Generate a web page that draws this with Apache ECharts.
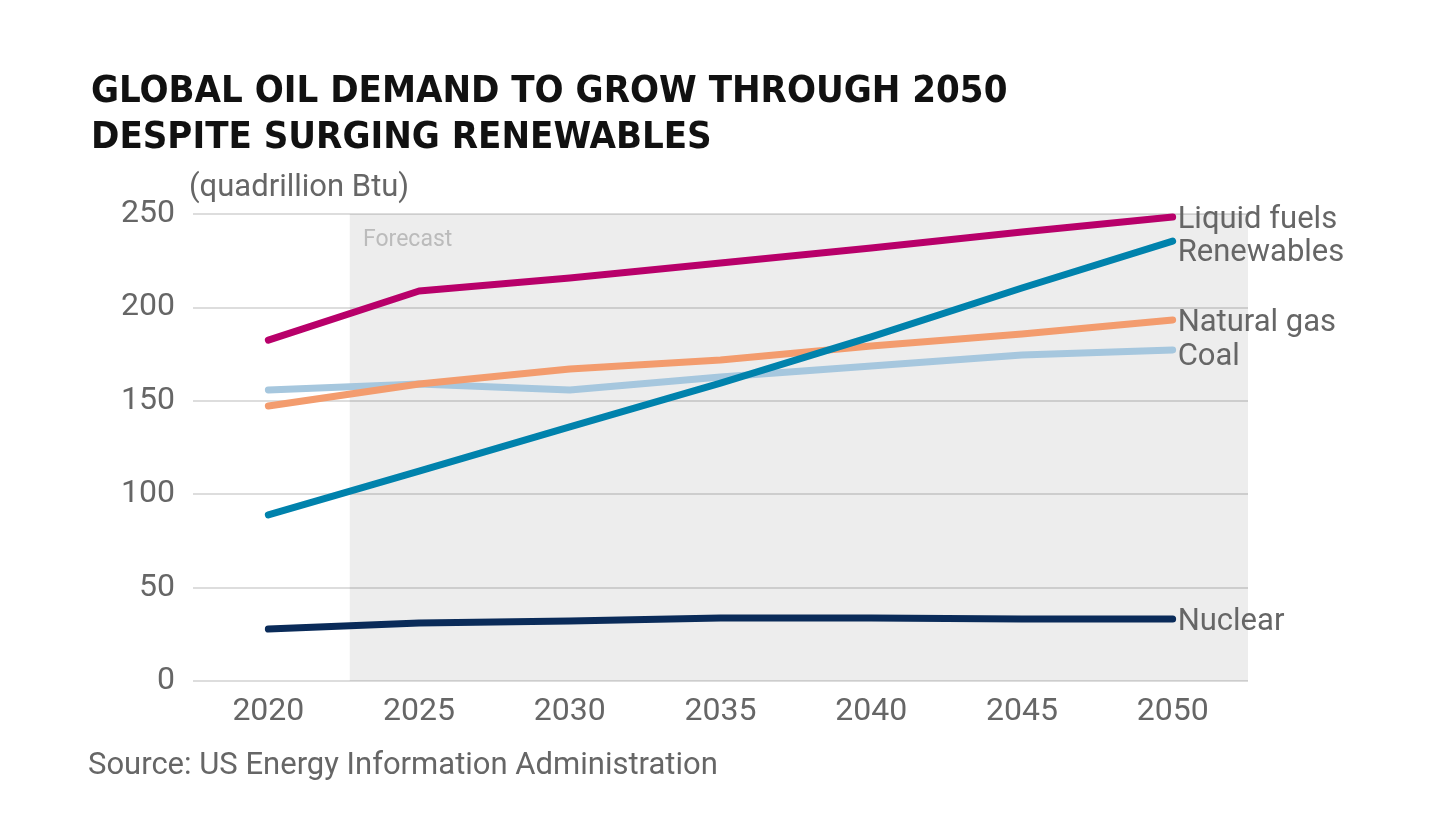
<!DOCTYPE html>
<html>
<head>
<meta charset="utf-8">
<script src="https://cdn.jsdelivr.net/npm/echarts@6/dist/echarts.min.js"></script>
<style>
  html, body { margin: 0; padding: 0; background: #ffffff; }
  #chart { width: 1440px; height: 831px; }
</style>
</head>
<body>
<div id="chart"></div>
<script>
const years = ['2020', '2025', '2030', '2035', '2040', '2045', '2050'];
const liquidFuels = [182.5, 208.8, 215.7, 223.8, 231.8, 240.4, 248.4];
const renewables = [88.9, 112.4, 136.0, 159.5, 184.2, 210.4, 235.5];
const naturalGas = [147.2, 159.0, 167.0, 171.8, 179.3, 185.8, 193.3];
const coal = [155.8, 159.0, 155.8, 162.7, 168.6, 174.5, 177.2];
const nuclear = [27.8, 31.0, 32.1, 33.7, 33.7, 33.2, 33.2];
const forecastStart = 2022.7;
const forecastEnd = 2052.5;

const labelFont = 'Roboto, "Noto Sans", sans-serif';

function lineSeries(name, data, color, offset) {
  return {
    name: name,
    type: 'line',
    data: data,
    symbol: 'none',
    lineStyle: { color: color, width: 7, cap: 'round', join: 'round' },
    endLabel: {
      show: true,
      formatter: '{a}',
      color: '#666666',
      fontSize: 31,
      fontFamily: labelFont,
      distance: 5,
      offset: offset || [0, 3]
    },
    emphasis: { disabled: true },
    silent: true,
    z: 3
  };
}

const chart = echarts.init(document.getElementById('chart'), null, { renderer: 'canvas' });
chart.setOption({
  backgroundColor: '#ffffff',
  animation: false,
  title: {
    text: 'GLOBAL OIL DEMAND TO GROW THROUGH 2050\nDESPITE SURGING RENEWABLES',
    left: 86,
    top: 64,
    textStyle: {
      fontFamily: '"DejaVu Sans Condensed", "Liberation Sans", sans-serif',
      fontWeight: 'bold',
      fontSize: 38,
      lineHeight: 46,
      color: '#111111'
    }
  },
  graphic: [{
    type: 'text',
    left: 88,
    top: 751,
    style: {
      text: 'Source: US Energy Information Administration',
      fontFamily: labelFont,
      fontSize: 31,
      fill: '#666666'
    }
  }, {
    type: 'text',
    left: 363,
    top: 229,
    style: {
      text: 'Forecast',
      fontFamily: labelFont,
      fontSize: 23,
      fill: '#bbbbbb'
    },
    z: 10
  }],
  grid: { left: 193, right: 192, top: 214, bottom: 150 },
  xAxis: [{
    type: 'category',
    data: years,
    boundaryGap: true,
    axisLine: { show: false },
    axisTick: { show: false },
    axisLabel: { color: '#666666', fontSize: 32, fontFamily: labelFont, margin: 15 }
  }, {
    type: 'value',
    min: 2017.5,
    max: forecastEnd,
    show: false
  }],
  yAxis: {
    type: 'value',
    min: 0,
    max: 250,
    interval: 50,
    name: '(quadrillion Btu)',
    nameLocation: 'end',
    nameGap: 10,
    nameTextStyle: { color: '#666666', fontSize: 31, fontFamily: labelFont, align: 'left', padding: [0, 0, 0, -4] },
    axisLine: { show: false },
    axisTick: { show: false },
    axisLabel: { color: '#666666', fontSize: 32, fontFamily: labelFont, margin: 18, padding: [14, 0, 0, 0] },
    splitLine: { lineStyle: { color: '#dddddd', width: 2 } }
  },
  series: [
    {
      name: 'ForecastArea',
      type: 'line',
      xAxisIndex: 1,
      data: [],
      silent: true,
      markArea: {
        silent: true,
        itemStyle: { color: 'rgba(0,0,0,0.07)' },
        label: { show: false },
        data: [[{ xAxis: forecastStart, yAxis: 250 }, { xAxis: forecastEnd, yAxis: 0 }]]
      },
      z: 1
    },
    lineSeries('Coal', coal, '#a6c7de', [0, 7]),
    lineSeries('Natural gas', naturalGas, '#f39c6e'),
    lineSeries('Renewables', renewables, '#0082ac', [0, 12]),
    lineSeries('Liquid fuels', liquidFuels, '#b8006a'),
    lineSeries('Nuclear', nuclear, '#0a2b59')
  ]
});
</script>
</body>
</html>
